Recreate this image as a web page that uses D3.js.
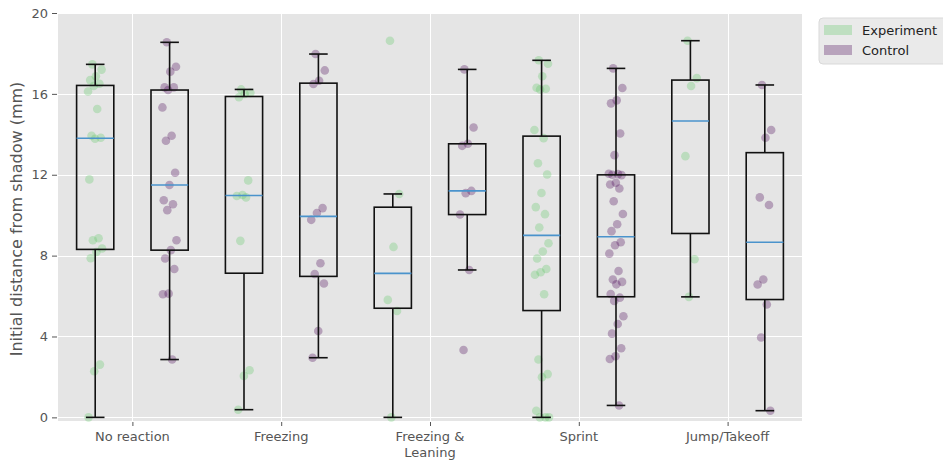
<!DOCTYPE html>
<html>
<head>
<meta charset="utf-8">
<script src="https://cdn.jsdelivr.net/npm/d3@7"></script>
<style>
  html, body { margin: 0; padding: 0; background: #fff; }
  svg { display: block; font-family: "DejaVu Sans", sans-serif; }
</style>
</head>
<body>
<svg id="chart" width="943" height="462"></svg>
<script>
// Behaviour categories (x axis); "\n" splits a label over two lines
const categories = ["No reaction", "Freezing", "Freezing &\nLeaning", "Sprint", "Jump/Takeoff"];

// Initial distance from shadow (mm), one array per group
const expNoReaction = [17.46, 17.2, 16.87, 16.68, 16.5, 16.39, 16.12, 15.25, 13.93, 13.83, 13.78, 11.77, 8.86, 8.76, 8.35, 8.18, 7.87, 2.61, 2.28, 0];
const ctrlNoReaction = [18.55, 17.34, 17.1, 16.32, 16.32, 16.19, 15.33, 13.93, 13.68, 12.1, 11.49, 10.74, 10.54, 10.25, 8.76, 8.27, 7.86, 7.34, 6.12, 6.09, 2.86];
const expFreezing = [16.22, 16.05, 15.99, 15.83, 11.72, 11.0, 10.95, 10.88, 8.73, 2.33, 2.05, 0.38];
const ctrlFreezing = [17.97, 17.16, 16.65, 16.49, 10.35, 10.11, 9.77, 7.62, 7.09, 6.62, 4.27, 2.95];
const expFreezeLean = [18.63, 11.05, 8.43, 5.81, 5.26, 0];
const ctrlFreezeLean = [17.21, 14.34, 13.53, 13.43, 11.2, 11.09, 10.03, 7.29, 3.33];
const expSprint = [17.66, 17.49, 16.87, 16.3, 16.25, 16.22, 14.21, 13.81, 12.57, 12.01, 11.1, 10.4, 10.05, 9.39, 8.61, 8.2, 7.86, 7.34, 7.18, 7.05, 6.09, 2.86, 2.14, 1.99, 0.33, 0, 0, 0];
const ctrlSprint = [17.26, 16.29, 15.68, 15.53, 14.04, 12.97, 12.05, 12.03, 12.0, 11.98, 11.6, 11.52, 11.32, 10.69, 10.06, 9.55, 9.21, 8.66, 8.51, 8.1, 7.24, 6.82, 6.7, 6.58, 6.1, 5.92, 5.76, 5.0, 4.62, 4.14, 3.42, 3.02, 2.89, 0.59];
const expJump = [18.63, 16.78, 16.39, 12.92, 7.82, 5.96];
const ctrlJump = [16.44, 14.21, 13.83, 10.88, 10.5, 6.82, 6.57, 5.58, 3.95, 0.33];

const experiment = [expNoReaction, expFreezing, expFreezeLean, expSprint, expJump];
const control = [ctrlNoReaction, ctrlFreezing, ctrlFreezeLean, ctrlSprint, ctrlJump];

const yTicks = [0, 4, 8, 12, 16, 20];
const seriesNames = ["Experiment", "Control"];

// ---- layout & style ----
const plot = { left: 58, right: 802, top: 13, bottom: 421 };
const colors = { Experiment: "#5cc863", Control: "#440154" };
const pointAlpha = { Experiment: 0.3, Control: 0.3 };
const boxWidth = 0.25;      // in category units
const groupOffset = 0.25;   // experiment left, control right

const svg = d3.select("#chart");

const x = d3.scaleLinear().domain([-0.5, categories.length - 0.5]).range([plot.left, plot.right]);
const y = d3.scaleLinear().domain([-0.18, 20]).range([plot.bottom, plot.top]);

// panel background
svg.append("rect")
  .attr("x", plot.left).attr("y", plot.top)
  .attr("width", plot.right - plot.left).attr("height", plot.bottom - plot.top)
  .attr("fill", "#e5e5e5");

// grid
const grid = svg.append("g").attr("stroke", "#fff").attr("stroke-width", 1);
grid.selectAll(".hg").data(yTicks).join("line")
  .attr("x1", plot.left).attr("x2", plot.right)
  .attr("y1", d => Math.round(y(d)) + 0.5).attr("y2", d => Math.round(y(d)) + 0.5);
grid.selectAll(".vg").data(categories.map((c, i) => i)).join("line")
  .attr("x1", d => Math.round(x(d)) + 0.5).attr("x2", d => Math.round(x(d)) + 0.5)
  .attr("y1", plot.top).attr("y2", plot.bottom);

// axes
const yAxis = d3.axisLeft(y).tickValues(yTicks).tickFormat(d3.format("d")).tickSize(5).tickPadding(4);
const gy = svg.append("g").attr("transform", `translate(${plot.left - 1},0)`).call(yAxis);
const xAxis = d3.axisBottom(x).tickValues(categories.map((c, i) => i)).tickFormat("").tickSize(4);
const gx = svg.append("g").attr("transform", `translate(0,${plot.bottom + 1})`).call(xAxis);
[gx, gy].forEach(g => {
  g.select(".domain").remove();
  g.selectAll(".tick line").attr("stroke", "#555");
  g.selectAll(".tick text").attr("fill", "#555").attr("font-size", 13).attr("font-family", "DejaVu Sans");
});

// x labels (may span two lines)
const xl = svg.append("g").attr("fill", "#555").attr("font-size", 13).attr("text-anchor", "middle");
categories.forEach((c, i) => {
  const t = xl.append("text").attr("x", x(i)).attr("y", 441);
  c.split("\n").forEach((line, k) => {
    t.append("tspan").attr("x", x(i)).attr("dy", k === 0 ? 0 : 15.5).text(line);
  });
});

// y axis title
svg.append("text")
  .attr("transform", `translate(22,${(plot.top + plot.bottom) / 2 + 2}) rotate(-90)`)
  .attr("text-anchor", "middle").attr("fill", "#555").attr("font-size", 16)
  .text("Initial distance from shadow (mm)");

// box statistics (linear-interpolated quartiles, 1.5 IQR whiskers)
function boxStats(values) {
  const s = values.slice().sort(d3.ascending);
  const q1 = d3.quantile(s, 0.25), med = d3.quantile(s, 0.5), q3 = d3.quantile(s, 0.75);
  const iqr = q3 - q1;
  const lo = d3.min(s.filter(v => v >= q1 - 1.5 * iqr));
  const hi = d3.max(s.filter(v => v <= q3 + 1.5 * iqr));
  return { q1, med, q3, lo, hi };
}

// deterministic horizontal spread for the strip points
const spread = i => (((i * 0.6180339887 + 0.31) % 1) - 0.5) * 0.1;

const groups = [];
categories.forEach((c, i) => {
  groups.push({ name: "Experiment", pos: i - groupOffset, values: experiment[i] });
  groups.push({ name: "Control", pos: i + groupOffset, values: control[i] });
});

// strip points
const pts = svg.append("g");
groups.forEach(g => {
  pts.selectAll(null).data(g.values).join("circle")
    .attr("cx", (d, k) => x(g.pos + spread(k)))
    .attr("cy", d => y(d))
    .attr("r", 4.3)
    .attr("fill", colors[g.name])
    .attr("fill-opacity", pointAlpha[g.name]);
});

// boxes
const boxes = svg.append("g").attr("fill", "none").attr("stroke", "#111").attr("stroke-width", 1.6);
groups.forEach(g => {
  const st = boxStats(g.values);
  const cx = x(g.pos), hw = (x(boxWidth) - x(0)) / 2, cw = hw / 2;
  boxes.append("line").attr("x1", cx).attr("x2", cx).attr("y1", y(st.q3)).attr("y2", y(st.hi));
  boxes.append("line").attr("x1", cx).attr("x2", cx).attr("y1", y(st.q1)).attr("y2", y(st.lo));
  boxes.append("line").attr("x1", cx - cw).attr("x2", cx + cw).attr("y1", y(st.hi)).attr("y2", y(st.hi));
  boxes.append("line").attr("x1", cx - cw).attr("x2", cx + cw).attr("y1", y(st.lo)).attr("y2", y(st.lo));
  boxes.append("rect").attr("x", cx - hw).attr("y", y(st.q3)).attr("width", 2 * hw).attr("height", y(st.q1) - y(st.q3));
  svg.append("line").attr("x1", cx - hw).attr("x2", cx + hw).attr("y1", y(st.med)).attr("y2", y(st.med))
    .attr("stroke", "#4a93cc").attr("stroke-width", 1.6);
});

// legend
const lg = svg.append("g").attr("transform", "translate(819,18)");
lg.append("rect").attr("width", 132).attr("height", 46).attr("rx", 4)
  .attr("fill", "#eaeaea").attr("stroke", "#d9d9d9").attr("stroke-width", 1);
seriesNames.forEach((n, k) => {
  lg.append("rect").attr("x", 5).attr("y", 7 + k * 20).attr("width", 28).attr("height", 10)
    .attr("fill", colors[n]).attr("fill-opacity", pointAlpha[n]);
  lg.append("text").attr("x", 43).attr("y", 16.5 + k * 20).attr("font-size", 13).attr("fill", "#222").text(n);
});
</script>
</body>
</html>
